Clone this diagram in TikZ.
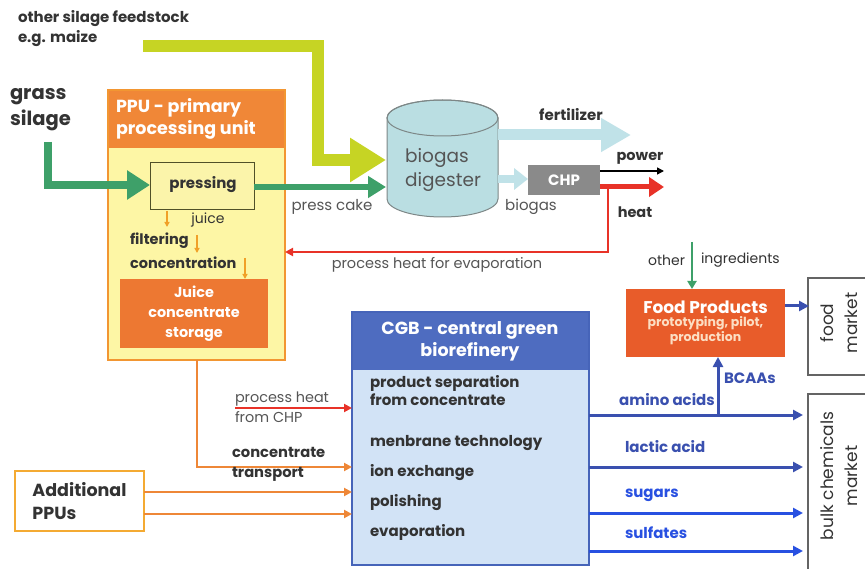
\documentclass[tikz,border=0pt]{standalone}
\usepackage{fontspec}
\setmainfont{Poppins}
\usetikzlibrary{arrows.meta,calc}

\definecolor{txt}{RGB}{51,51,51}
\definecolor{ygreen}{RGB}{198,212,36}
\definecolor{ggreen}{RGB}{62,160,105}
\definecolor{ppuhead}{RGB}{240,135,55}
\definecolor{ppubody}{RGB}{253,246,165}
\definecolor{ppuborder}{RGB}{242,150,50}
\definecolor{pressfill}{RGB}{251,244,170}
\definecolor{pressdraw}{RGB}{80,80,40}
\definecolor{storage}{RGB}{237,120,50}
\definecolor{oline}{RGB}{238,135,55}
\definecolor{juiceor}{RGB}{240,160,40}
\definecolor{digfill}{RGB}{186,222,226}
\definecolor{digdraw}{RGB}{125,135,135}
\definecolor{cyanarrow}{RGB}{192,226,232}
\definecolor{chpgray}{RGB}{138,138,138}
\definecolor{heatred}{RGB}{232,50,40}
\definecolor{cgbhead}{RGB}{78,108,192}
\definecolor{cgbbody}{RGB}{210,227,246}
\definecolor{cgbdraw}{RGB}{70,100,185}
\definecolor{bluedark}{RGB}{58,80,175}
\definecolor{bluebright}{RGB}{40,80,225}
\definecolor{foodfill}{RGB}{232,92,42}
\definecolor{foodsub}{RGB}{252,222,195}
\definecolor{mktdraw}{RGB}{100,100,100}
\definecolor{addborder}{RGB}{244,170,50}
\definecolor{labgray}{RGB}{85,85,85}

\begin{document}
\begin{tikzpicture}[x=1pt,y=-1pt,
  every node/.style={inner sep=0pt,outer sep=0pt,text=txt},
  lbl/.style={font=\fontsize{14.5}{16}\selectfont},
  blbl/.style={font=\bfseries\fontsize{14.5}{16}\selectfont},
  bluelbl/.style={font=\bfseries\fontsize{15}{16}\selectfont,text=bluedark},
  ygarrow/.style={draw=ygreen,line width=12pt,-{Triangle[length=36pt,width=42pt]}},
  garrow/.style={draw=ggreen,line width=8pt,-{Triangle[length=23pt,width=28pt]}},
  gcake/.style={draw=ggreen,line width=6pt,-{Triangle[length=18pt,width=21pt]}},
  juicearrow/.style={draw=juiceor,line width=1.5pt,-{Triangle[length=5pt,width=5pt]}},
  oarrow/.style={draw=oline,line width=2.5pt,-{Triangle[length=8pt,width=8pt]}},
  redarrow/.style={draw=heatred,line width=2pt,-{Triangle[length=8pt,width=8pt]}},
  barrow/.style={line width=3pt,-{Triangle[length=10pt,width=10pt]}}
]
\useasboundingbox (0,0) rectangle (865,569);
\fill[white] (0,0) rectangle (865,569);

% ---------- feedstock labels ----------
\node[anchor=north west,align=left,font=\bfseries\fontsize{15}{20}\selectfont] (maize) at (18,10) {other silage feedstock\\e.g. maize};
\node[anchor=west,align=left,font=\bfseries\fontsize{19.5}{26}\selectfont] (grass) at (10,110) {grass\\silage};

% ---------- PPU ----------
\node[draw=ppuborder,fill=ppubody,line width=1.5pt,minimum width=177pt,minimum height=270pt,anchor=north west] (ppu) at (108,90) {};
\fill[ppuhead] (ppu.north west) rectangle (285,148);
\draw[ppuborder,line width=1.5pt] (ppu.north west) rectangle (ppu.south east);
\node[anchor=west,align=left,text=white,font=\bfseries\fontsize{17.5}{22}\selectfont] (ppuhead) at (116,119) {PPU - primary\\processing unit};

\node[draw=pressdraw,fill=pressfill,line width=1pt,minimum width=104pt,minimum height=47pt,anchor=north west] (press) at (150,163) {};
\node[font=\bfseries\fontsize{15}{16}\selectfont] (presstxt) at (203,185) {pressing};

\node[lbl,font=\fontsize{14}{16}\selectfont] (juice) at (208,220) {juice};
\node[blbl,anchor=west] (filter) at (130,241) {filtering};
\node[blbl,anchor=west] (conc) at (130,263) {concentration};

\node[fill=storage,minimum width=148pt,minimum height=69pt,align=center,text=white,font=\bfseries\fontsize{14.4}{20}\selectfont] (store) at (194,313.5) {Juice\\concentrate\\storage};

\coordinate (j1a) at (167,211);
\coordinate (j1b) at (167,227);
\coordinate (j2a) at (197,235);
\coordinate (j2b) at (197,253);
\coordinate (j3a) at (245,258);
\draw[juicearrow] (j1a) -- (j1b);
\draw[juicearrow] (j2a) -- (j2b);
\draw[juicearrow] (j3a) -- (j3a |- store.north);

% ---------- biogas digester ----------
\node[minimum width=111pt,minimum height=117pt] (dig) at (442.5,158.5) {};
\path[draw=digdraw,fill=digfill,line width=1pt] (387,118) -- (387,199)
  arc[start angle=180,end angle=360,x radius=55.5pt,y radius=18pt] -- (498,118)
  arc[start angle=0,end angle=180,x radius=55.5pt,y radius=18pt] -- cycle;
\draw[digdraw,line width=1pt] (442.5,118) ellipse [x radius=55.5pt,y radius=18pt];
\node[align=left,text=labgray,font=\fontsize{18.5}{24}\selectfont] (digtxt) at (443,170) {biogas\\digester};

% feed arrows
\coordinate (m0) at (143,46);
\coordinate (m1) at (318,46);
\coordinate (m2) at (318,160);
\coordinate (digin1) at (386,160);
\draw[ygarrow] (m0) -- (m1) -- (m2) -- (digin1);

\coordinate (g0) at (48,142);
\coordinate (g1) at (48,185);
\draw[garrow] (g0) -- (g1) -- (g1 -| press.west);

\coordinate (digin2) at (386,187);
\draw[gcake] (press.east |- digin2) -- (digin2);
\node[lbl,text=labgray,font=\fontsize{15}{16}\selectfont] (cake) at (332,207) {press cake};

% ---------- CHP and outputs ----------
\node[fill=chpgray,minimum width=72pt,minimum height=30pt,text=white,font=\bfseries\fontsize{15}{16}\selectfont] (chp) at (564,180) {CHP};

\coordinate (f0) at (498,135);
\coordinate (f1) at (631,135);
\draw[draw=cyanarrow,line width=11pt,-{Triangle[length=30pt,width=32pt]}] (f0) -- (f1);
\node[blbl,font=\bfseries\fontsize{15}{16}\selectfont] (fert) at (571,115) {fertilizer};

\coordinate (b0) at (498,179);
\draw[draw=cyanarrow,line width=8pt,-{Triangle[length=14pt,width=21pt]}] (b0) -- (b0 -| chp.west);
\node[lbl,text=labgray,font=\fontsize{15}{16}\selectfont] (biogas) at (531,207) {biogas};

\coordinate (pw) at (664,171);
\draw[black,line width=1.5pt,-{Triangle[length=7pt,width=7pt]}] (chp.east |- pw) -- (pw);
\node[blbl] (power) at (640,158) {power};

\coordinate (ht) at (664,187);
\draw[heatred,line width=5pt,-{Triangle[length=15pt,width=19pt]}] (chp.east |- ht) -- (ht);
\node[blbl] (heat) at (635,212) {heat};

\coordinate (ph0) at (608,187);
\coordinate (ph1) at (608,252);
\draw[redarrow] (ph0) -- (ph1) -- (ph1 -| ppu.east);
\node[lbl,text=labgray] (phtxt) at (437,265) {process heat for evaporation};

% ---------- CGB ----------
\node[draw=cgbdraw,fill=cgbbody,line width=1.5pt,minimum width=237pt,minimum height=253pt,anchor=north west] (cgb) at (352,312) {};
\fill[cgbhead] (cgb.north west) rectangle (589,370);
\draw[cgbdraw,line width=1.5pt] (cgb.north west) rectangle (cgb.south east);
\node[align=center,text=white,font=\bfseries\fontsize{17.5}{22}\selectfont] (cgbhead) at (470,341) {CGB - central green\\biorefinery};

\node[anchor=west,align=left,font=\bfseries\fontsize{15}{18}\selectfont] (c1) at (370,391) {product separation\\from concentrate};
\node[anchor=west,font=\bfseries\fontsize{15}{16}\selectfont] (c2) at (370,443) {menbrane technology};
\node[anchor=west,font=\bfseries\fontsize{15}{16}\selectfont] (c3) at (370,473) {ion exchange};
\node[anchor=west,font=\bfseries\fontsize{15}{16}\selectfont] (c4) at (370,503) {polishing};
\node[anchor=west,font=\bfseries\fontsize{15}{16}\selectfont] (c5) at (370,532) {evaporation};

% inputs to CGB
\coordinate (t0) at (197,360);
\coordinate (t1) at (197,467);
\draw[oarrow] (t0) -- (t1) -- (t1 -| cgb.west);
\node[anchor=west,align=left,font=\bfseries\fontsize{14.7}{20}\selectfont] (trans) at (232,464) {concentrate\\transport};

\node[anchor=west,align=left,text=labgray,font=\fontsize{14.4}{20}\selectfont] (phchp) at (235,407) {process heat\\from CHP};
\coordinate (r0) at (235,408);
\draw[redarrow] (r0) -- (r0 -| cgb.west);

\node[draw=addborder,line width=2pt,fill=white,minimum width=129pt,minimum height=60pt,align=left,font=\bfseries\fontsize{17.5}{23}\selectfont] (add) at (79.5,501) {Additional\\PPUs};
\coordinate (a1) at (144,492);
\coordinate (a2) at (144,514);
\draw[oarrow] (a1) -- (a1 -| cgb.west);
\draw[oarrow] (a2) -- (a2 -| cgb.west);

% ---------- food products ----------
\node[fill=foodfill,minimum width=159pt,minimum height=68pt,align=center,text=white] (food) at (705.5,323)
  {{\bfseries\fontsize{17}{18}\selectfont Food Products}\\[1pt]{\color{foodsub}\bfseries\fontsize{12.5}{16}\selectfont prototyping, pilot,}\\{\color{foodsub}\bfseries\fontsize{12.5}{15}\selectfont production}};

\coordinate (oi) at (692,242);
\draw[draw=ggreen,line width=2.5pt,-{Triangle[length=8pt,width=9pt]}] (oi) -- (oi |- food.north);
\node[font=\fontsize{14}{16}\selectfont,anchor=east] (other) at (685,260) {other};
\node[font=\fontsize{14}{16}\selectfont,anchor=west] (ingr) at (701,260) {ingredients};

% ---------- markets ----------
\draw[mktdraw,line width=1.2pt] (866,278) -| (808,375) -- (866,375);
\node[rotate=90,align=center,font=\fontsize{17}{24}\selectfont] (foodmkt) at (839,323) {food\\market};
\draw[mktdraw,line width=1.2pt] (866,394) -| (808,570);
\node[rotate=90,align=center,font=\fontsize{17}{24}\selectfont] (bulkmkt) at (839,476) {bulk chemicals\\market};

\coordinate (fm) at (809,306);
\draw[barrow,draw=bluedark] (food.east |- fm) -- (fm);

% ---------- products out of CGB ----------
\coordinate (o1) at (803,415);
\coordinate (o2) at (803,467);
\coordinate (o3) at (803,513);
\coordinate (o4) at (803,551);
\draw[barrow,draw=bluedark] (cgb.east |- o1) -- (o1);
\draw[barrow,draw=bluedark] (cgb.east |- o2) -- (o2);
\draw[barrow,draw=bluebright] (cgb.east |- o3) -- (o3);
\draw[barrow,draw=bluebright] (cgb.east |- o4) -- (o4);
\coordinate (bc) at (718,415);
\draw[barrow,draw=bluedark] (bc) -- (bc |- food.south);

\node[bluelbl] (amino) at (667,400) {amino acids};
\node[bluelbl,anchor=west] (bcaa) at (724,378) {BCAAs};
\node[bluelbl,anchor=west] (lactic) at (625,447) {lactic acid};
\node[bluelbl,anchor=west,text=bluebright] (sugars) at (625,495) {sugars};
\node[bluelbl,anchor=west,text=bluebright] (sulf) at (625,533) {sulfates};
\end{tikzpicture}
\end{document}
